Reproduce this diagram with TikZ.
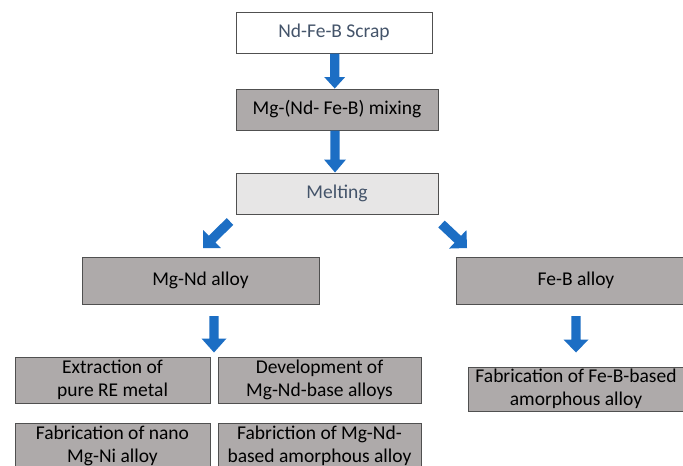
\documentclass[tikz,border=0pt]{standalone}
\usepackage{fontspec}
\setmainfont{Carlito}
\usetikzlibrary{calc}
\definecolor{boxgrey}{HTML}{AEAAAA}
\definecolor{lightbox}{HTML}{E7E6E6}
\definecolor{boxline}{HTML}{505050}
\definecolor{titleblue}{HTML}{44546A}
\definecolor{arrowblue}{RGB}{28,110,196}
\newcommand{\blockarrow}[4]{%
  \coordinate (ba-h) at ($(#2)!#3!(#1)$);
  \fill[arrowblue] ($(#1)!4.7pt!90:(#2)$) -- ($(ba-h)!4.7pt!-90:(#1)$) -- ($(ba-h)!#4!-90:(#1)$)
    -- (#2) -- ($(ba-h)!#4!90:(#1)$) -- ($(ba-h)!4.7pt!90:(#1)$) -- ($(#1)!4.7pt!-90:(#2)$) -- cycle;}
\begin{document}
\begin{tikzpicture}[x=1pt,y=-1pt,
  box/.style={draw=boxline, line width=1pt, fill=boxgrey, inner sep=0pt, align=center,
    font=\fontsize{19.5}{23}\selectfont, text=black},
  topbox/.style={box, fill=white, text=titleblue},
  meltbox/.style={box, fill=lightbox, text=titleblue}]
\useasboundingbox (0,0) rectangle (683,466);
\clip (0,0) rectangle (683,466);
\fill[white] (0,0) rectangle (683,466);
% boxes
\node[topbox, minimum width=196pt, minimum height=41pt] (scrap) at (334,32.5) {Nd-Fe-B Scrap};
\node[box, minimum width=202pt, minimum height=41pt] (mix) at (337,109.5) {Mg-(Nd- Fe-B) mixing};
\node[meltbox, minimum width=202pt, minimum height=41pt] (melt) at (337,193.5) {Melting};
\node[box, minimum width=237pt, minimum height=47pt] (mgnd) at (200.5,280.5) {Mg-Nd alloy};
\node[box, minimum width=240pt, minimum height=47pt] (feb) at (576,280.5) {Fe-B alloy};
\node[box, minimum width=195pt, minimum height=46pt] (extr) at (112.5,380) {Extraction of\\pure RE metal};
\node[box, minimum width=203pt, minimum height=46pt] (devel) at (319.5,380) {Development of\\Mg-Nd-base alloys};
\node[box, minimum width=195pt, minimum height=46pt] (nano) at (112.5,446) {Fabrication of nano\\Mg-Ni alloy};
\node[box, minimum width=203pt, minimum height=46pt] (amor) at (319.5,446) {Fabriction of Mg-Nd-\\based amorphous alloy};
\node[box, minimum width=216pt, minimum height=44pt] (febfab) at (576,389) {Fabrication of Fe-B-based\\amorphous alloy};
% arrow ends
\coordinate (a1t) at ($(scrap.south)+(0.7,0)$);
\coordinate (a1h) at ($(mix.north)+(-2.3,0)$);
\coordinate (a2t) at ($(mix.south)+(-2,0)$);
\coordinate (a2h) at ($(melt.north)+(-2,0)$);
\coordinate (a3t) at (230,221.5);
\coordinate (a3h) at (203,248);
\coordinate (a4t) at (441.5,224);
\coordinate (a4h) at (467,248);
\coordinate (a5t) at (214,316);
\coordinate (a5h) at (214,352.5);
\coordinate (a6t) at (576,316);
\coordinate (a6h) at (576,352.5);
\blockarrow{a1t}{a1h}{11.5pt}{10.5pt}
\blockarrow{a2t}{a2h}{13pt}{11pt}
\blockarrow{a3t}{a3h}{12.7pt}{12.7pt}
\blockarrow{a4t}{a4h}{12.7pt}{12.7pt}
\blockarrow{a5t}{a5h}{14pt}{12.5pt}
\blockarrow{a6t}{a6h}{13pt}{12.5pt}
\end{tikzpicture}
\end{document}
